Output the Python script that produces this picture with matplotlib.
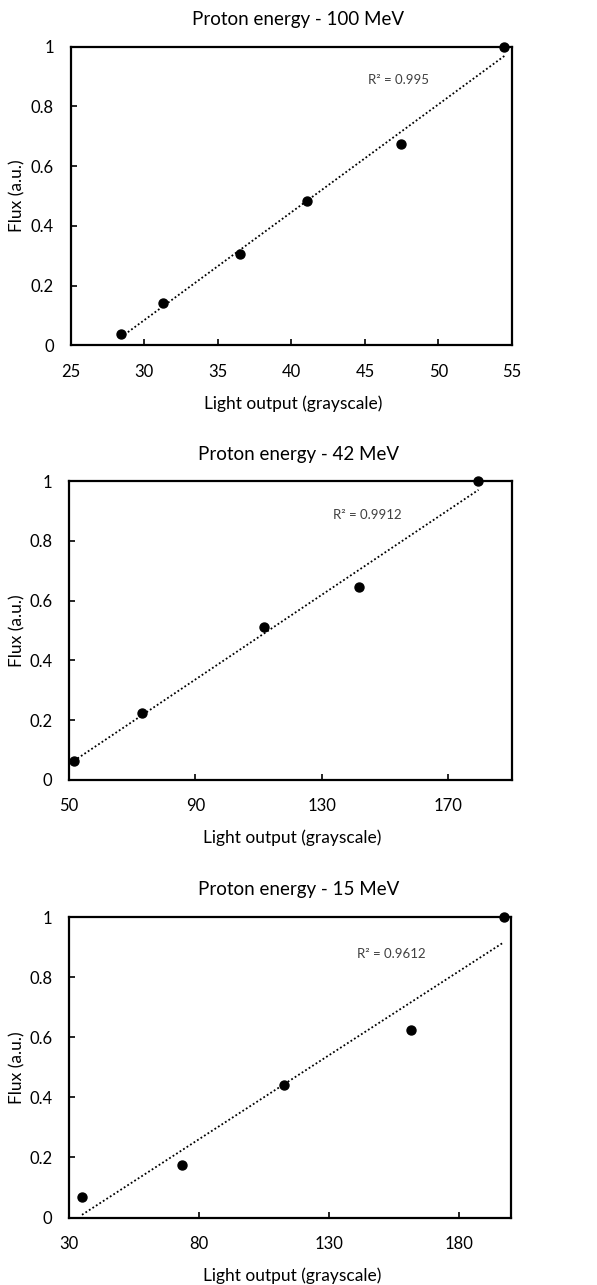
import numpy as np
import matplotlib
matplotlib.use("Agg")
import matplotlib.pyplot as plt

plt.rcParams['font.family'] = ['Lato', 'DejaVu Sans']

titles = ["Proton energy - 100 MeV", "Proton energy - 42 MeV", "Proton energy - 15 MeV"]

x_100 = [28.43, 31.27, 36.49, 41.03, 47.44, 54.48]
y_100 = [0.038, 0.142, 0.305, 0.484, 0.676, 1.0]

x_42 = [51.6, 73.1, 111.8, 141.7, 179.5]
y_42 = [0.065, 0.223, 0.512, 0.645, 1.0]

x_15 = [35.0, 73.5, 112.8, 161.5, 197.2]
y_15 = [0.067, 0.176, 0.442, 0.624, 1.0]

r2_labels = ["R² = 0.995", "R² = 0.9912", "R² = 0.9612"]
xlims = [(25, 55), (50, 190), (30, 200)]
xticks = [[25, 30, 35, 40, 45, 50, 55], [50, 90, 130, 170], [30, 80, 130, 180]]
yticks = [0, 0.2, 0.4, 0.6, 0.8, 1]
ytick_labels = ["0", "0.2", "0.4", "0.6", "0.8", "1"]
r2_pos = [(45.2, 0.889), (133.4, 0.886), (140.8, 0.877)]

data = [(x_100, y_100), (x_42, y_42), (x_15, y_15)]

W, H = 597, 1285
fig = plt.figure(figsize=(W / 100, H / 100), dpi=100)
# axes boxes in pixel coords: left, top, right, bottom
boxes = [(70.7, 46.7, 512, 345.5), (69, 481, 511.7, 780), (69, 917, 511, 1217.5)]

for i, ((xs, ys), box) in enumerate(zip(data, boxes)):
    l, t, r, b = box
    wpx, hpx = r - l, b - t
    ax = fig.add_axes([l / W, 1 - b / H, wpx / W, hpx / H])
    xs = np.array(xs); ys = np.array(ys)
    m, c = np.polyfit(xs, ys, 1)
    xf = np.array([xs.min(), xs.max()])
    ax.plot(xf, m * xf + c, linestyle=(0, (1, 1.3)), color='black', lw=1.3, zorder=2)
    ax.scatter(xs, ys, s=42, color='black', zorder=3, clip_on=False)
    ax.set_xlim(*xlims[i])
    ax.set_ylim(0, 1)
    ax.set_xticks(xticks[i])
    ax.set_yticks(yticks)
    ax.set_yticklabels(ytick_labels)
    for s in ax.spines.values():
        s.set_linewidth(1.6)
        s.set_color('black')
    ax.tick_params(axis='both', direction='in', length=4, width=1.2, labelsize=12,
                   colors='black')
    ax.tick_params(axis='x', pad=13)
    ax.tick_params(axis='y', pad=12)
    fig.text(((l + r) / 2 + 2) / W, 1 - (b + 58) / H, "Light output (grayscale)",
             fontsize=12.5, ha='center', va='center')
    fig.text(17 / W, 1 - ((t + b) / 2) / H, "Flux (a.u.)", fontsize=12.5,
             ha='center', va='center', rotation=90)
    ax.text(r2_pos[i][0], r2_pos[i][1], r2_labels[i], fontsize=9.5, color='#404040',
            ha='left', va='center')
    fig.text(0.5, 1 - (t - 27) / H, titles[i], fontsize=13.5, ha='center', va='center')

fig.savefig("out.png", dpi=100)
